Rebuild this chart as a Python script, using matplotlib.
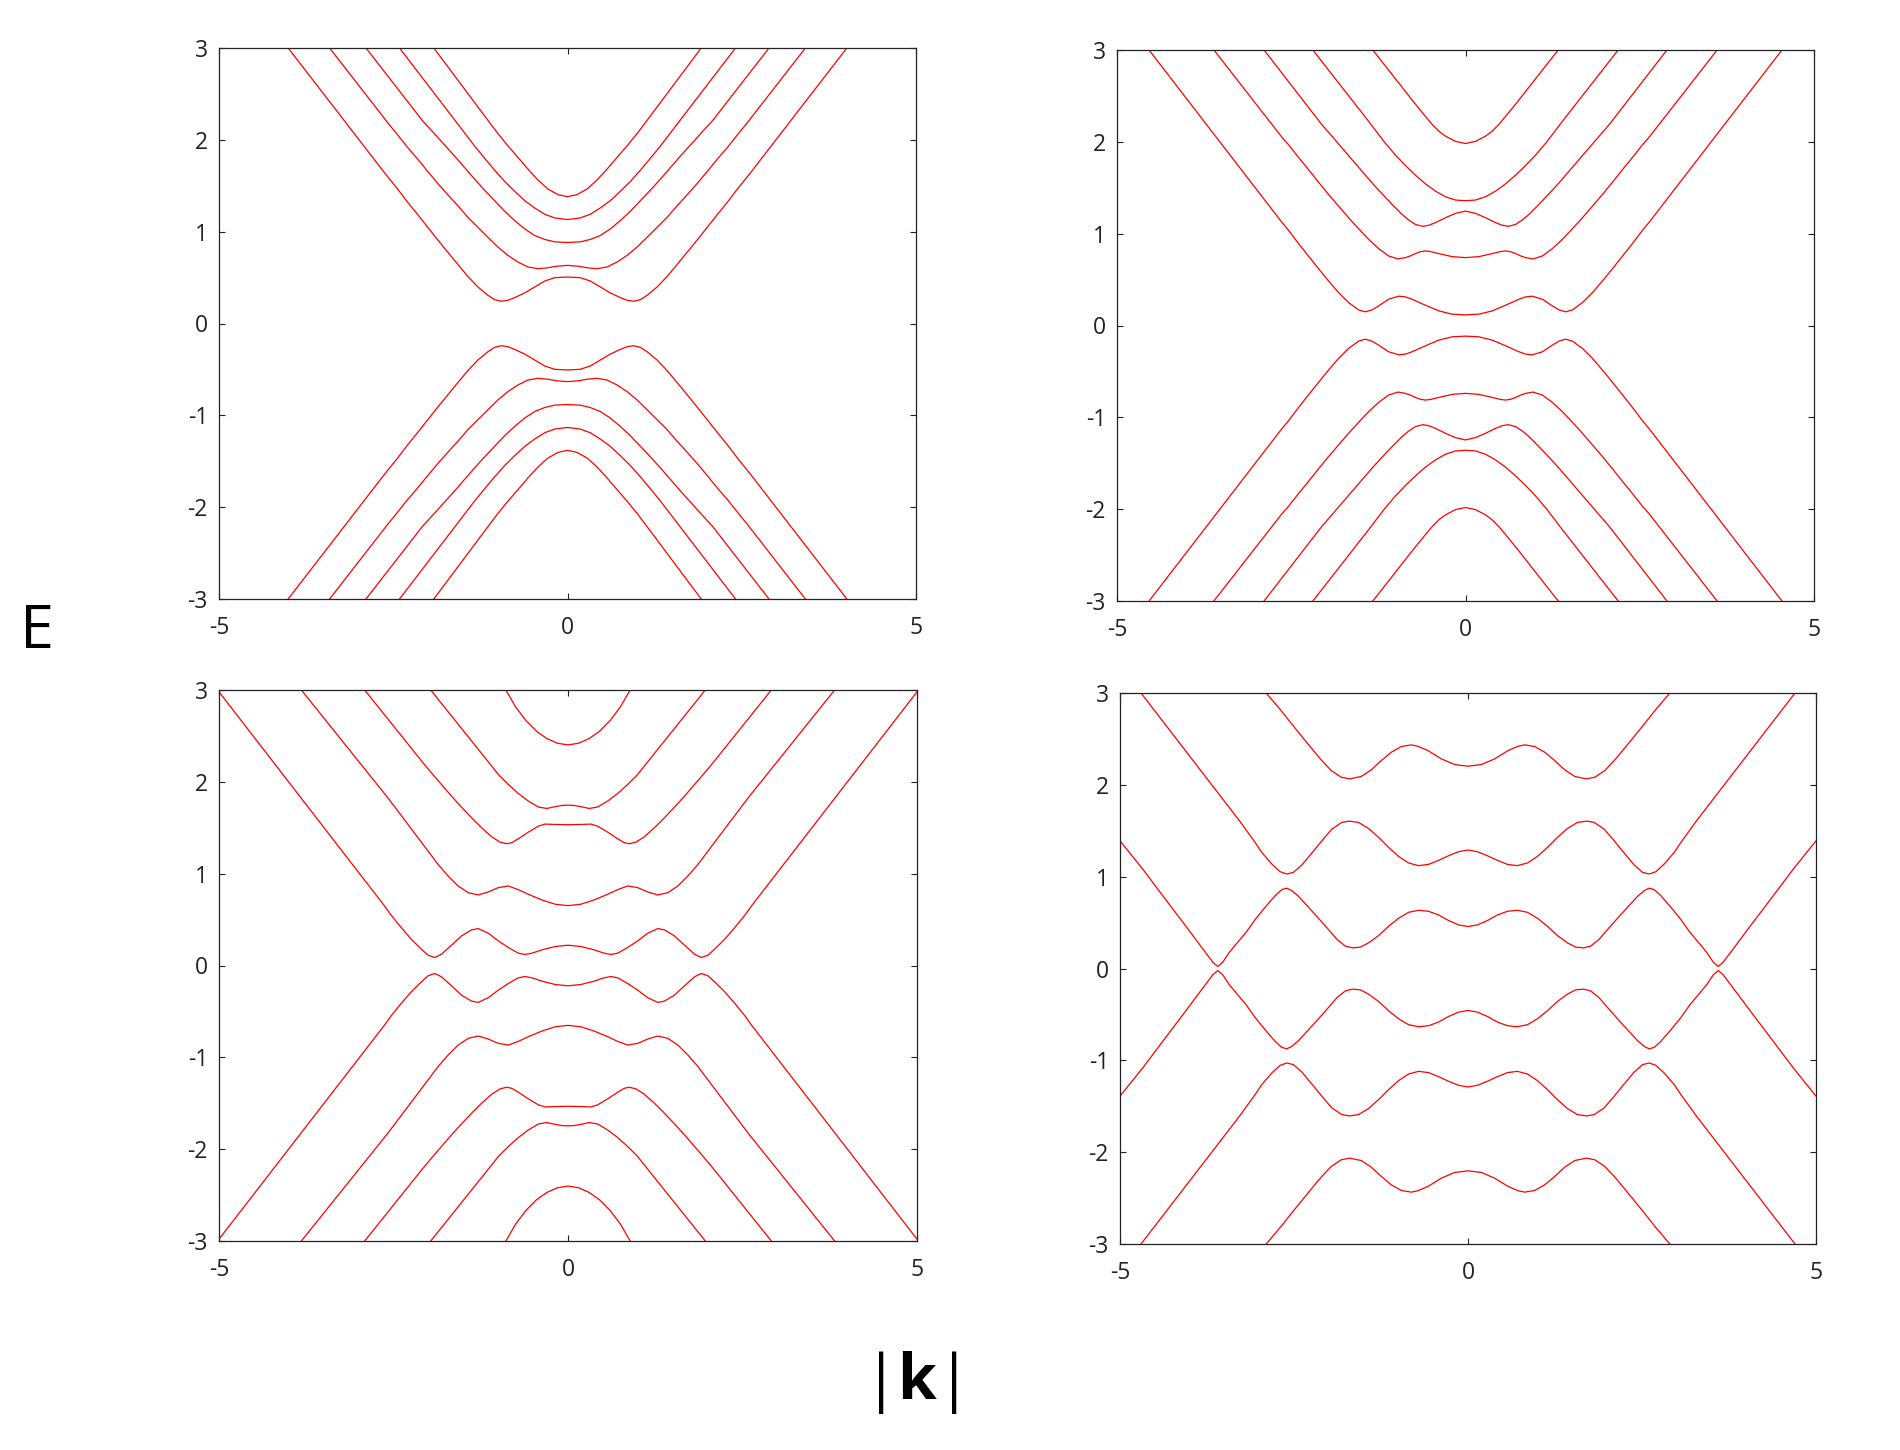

import matplotlib
matplotlib.use('Agg')
import matplotlib.pyplot as plt
import numpy as np

plt.rcParams['font.family'] = ['Open Sans', 'DejaVu Sans']
plt.rcParams['axes.unicode_minus'] = False
plt.rcParams['mathtext.fontset'] = 'custom'
plt.rcParams['mathtext.rm'] = 'Open Sans'
plt.rcParams['mathtext.bf'] = 'Open Sans:bold'

# Only the k >= 0, E >= 0 quarter of each band is stored as (k, E) pairs;
# the bands are mirrored in k and in E when drawn.

# panel 1 (top left)
p1_band_1 = [(0, 1.381), (0.135, 1.403), (0.279, 1.464), (0.423, 1.562), (0.567, 1.681),
             (0.71, 1.808), (0.854, 1.934), (0.998, 2.068), (1.118, 2.188), (1.918, 3.0)]
p1_band_2 = [(0, 1.132), (0.18, 1.149), (0.326, 1.189), (0.47, 1.258), (0.614, 1.338),
             (0.758, 1.439), (0.902, 1.547), (1.046, 1.67), (1.19, 1.8), (1.334, 1.934),
             (1.597, 2.195), (2.41, 3.0)]
p1_band_3 = [(0, 0.882), (0.182, 0.889), (0.326, 0.915), (0.47, 0.958), (0.614, 1.03),
             (0.758, 1.121), (0.902, 1.222), (1.046, 1.338), (1.19, 1.453), (1.334, 1.573),
             (1.478, 1.699), (1.622, 1.826), (1.766, 1.945), (1.91, 2.068), (2.077, 2.205),
             (2.891, 3.0)]
p1_band_4 = [(0, 0.633), (0.15, 0.624), (0.3, 0.605), (0.422, 0.597), (0.566, 0.615),
             (0.71, 0.669), (0.854, 0.741), (0.998, 0.832), (1.142, 0.94), (1.286, 1.048),
             (1.43, 1.157), (1.574, 1.283), (1.718, 1.403), (1.862, 1.526), (2.005, 1.656),
             (2.149, 1.79), (2.293, 1.916), (2.437, 2.054), (2.58, 2.187), (3.413, 3.0)]
p1_band_5 = [(0, 0.506), (0.182, 0.499), (0.326, 0.463), (0.47, 0.398), (0.614, 0.333),
             (0.758, 0.282), (0.854, 0.253), (0.95, 0.242), (1.046, 0.26), (1.142, 0.307),
             (1.286, 0.398), (1.43, 0.513), (1.574, 0.644), (1.718, 0.777), (1.862, 0.911),
             (2.005, 1.048), (2.149, 1.186), (2.293, 1.32), (2.437, 1.464), (2.629, 1.645),
             (4.008, 3.0)]

# panel 2 (top right)
p2_band_1 = [(0, 1.982), (0.143, 2.005), (0.287, 2.062), (0.383, 2.116), (0.479, 2.19),
             (0.6, 2.3), (0.75, 2.44), (0.9, 2.585), (1.05, 2.73), (1.2, 2.875), (1.33, 3.0)]
p2_band_2 = [(0, 1.359), (0.143, 1.366), (0.287, 1.402), (0.432, 1.464), (0.576, 1.543),
             (0.719, 1.638), (0.863, 1.743), (1.007, 1.858), (1.15, 1.985), (1.294, 2.127),
             (1.366, 2.2), (2.19, 3.0)]
p2_band_3 = [(0, 1.246), (0.143, 1.221), (0.287, 1.174), (0.432, 1.12), (0.528, 1.091),
             (0.614, 1.08), (0.719, 1.101), (0.815, 1.149), (0.911, 1.21), (1.054, 1.319),
             (1.198, 1.435), (1.342, 1.554), (1.486, 1.681), (1.63, 1.808), (1.774, 1.935),
             (1.918, 2.062), (2.062, 2.188), (2.89, 3.0)]
p2_band_4 = [(0, 0.739), (0.191, 0.75), (0.383, 0.783), (0.5, 0.805), (0.575, 0.812),
             (0.65, 0.803), (0.719, 0.783), (0.8, 0.755), (0.863, 0.739), (0.969, 0.725),
             (1.103, 0.757), (1.246, 0.837), (1.39, 0.938), (1.534, 1.054), (1.678, 1.174),
             (1.822, 1.301), (1.966, 1.428), (2.11, 1.562), (2.254, 1.699), (2.398, 1.833),
             (2.542, 1.971), (2.638, 2.054), (3.61, 3.0)]
p2_band_5 = [(0, 0.116), (0.191, 0.123), (0.383, 0.159), (0.575, 0.221), (0.767, 0.286),
             (0.863, 0.312), (0.959, 0.319), (1.103, 0.286), (1.246, 0.214), (1.342, 0.17),
             (1.438, 0.149), (1.534, 0.17), (1.678, 0.25), (1.822, 0.359), (1.966, 0.486),
             (2.11, 0.62), (2.254, 0.757), (2.398, 0.895), (2.542, 1.04), (2.638, 1.127),
             (4.54, 3.0)]

# panel 3 (bottom left)
p3_band_1 = [(0, 2.402), (0.15, 2.42), (0.3, 2.47), (0.45, 2.55), (0.6, 2.665),
             (0.75, 2.815), (0.89, 3.0)]
p3_band_2 = [(0, 1.746), (0.087, 1.743), (0.183, 1.73), (0.303, 1.71), (0.423, 1.725),
             (0.567, 1.79), (0.711, 1.873), (0.855, 1.971), (0.998, 2.08), (1.118, 2.195),
             (1.967, 3.0)]
p3_band_3 = [(0, 1.533), (0.183, 1.536), (0.327, 1.54), (0.423, 1.518), (0.567, 1.453),
             (0.711, 1.38), (0.807, 1.337), (0.879, 1.326), (0.975, 1.344), (1.094, 1.402),
             (1.238, 1.5), (1.382, 1.609), (1.526, 1.725), (1.669, 1.844), (1.813, 1.971),
             (1.957, 2.098), (2.077, 2.207), (2.913, 3.0)]
p3_band_4 = [(0, 0.652), (0.183, 0.667), (0.375, 0.714), (0.567, 0.775), (0.711, 0.826),
             (0.855, 0.866), (0.998, 0.848), (1.142, 0.801), (1.286, 0.768), (1.43, 0.793),
             (1.574, 0.866), (1.718, 0.975), (1.862, 1.101), (2.005, 1.246), (2.149, 1.391),
             (2.293, 1.536), (2.437, 1.681), (2.581, 1.826), (3.82, 3.0)]
p3_band_5 = [(0, 0.221), (0.183, 0.207), (0.375, 0.17), (0.518, 0.134), (0.615, 0.12),
             (0.711, 0.134), (0.855, 0.196), (0.998, 0.268), (1.142, 0.351), (1.286, 0.402),
             (1.382, 0.388), (1.526, 0.322), (1.669, 0.221), (1.813, 0.123), (1.909, 0.087),
             (2.005, 0.112), (2.101, 0.178), (2.245, 0.286), (2.389, 0.413), (2.533, 0.547),
             (2.629, 0.649), (5.0, 2.98)]

# panel 4 (bottom right)
p4_band_1 = [(0, 2.203), (0.192, 2.221), (0.383, 2.283), (0.575, 2.373), (0.719, 2.42),
             (0.815, 2.435), (0.959, 2.417), (1.103, 2.355), (1.246, 2.264), (1.39, 2.163),
             (1.534, 2.091), (1.7, 2.065), (1.822, 2.083), (1.966, 2.156), (2.11, 2.272),
             (2.253, 2.402), (2.397, 2.536), (2.541, 2.67), (2.685, 2.808), (2.9, 3.0)]
p4_band_2 = [(0, 1.29), (0.135, 1.272), (0.279, 1.228), (0.422, 1.178), (0.566, 1.134),
             (0.71, 1.12), (0.854, 1.149), (0.998, 1.221), (1.141, 1.319), (1.285, 1.428),
             (1.429, 1.525), (1.573, 1.591), (1.707, 1.605), (1.813, 1.591), (1.956, 1.518),
             (2.1, 1.391), (2.244, 1.257), (2.388, 1.127), (2.508, 1.047), (2.603, 1.029),
             (2.699, 1.054), (2.819, 1.138), (2.963, 1.264), (3.059, 1.373), (3.284, 1.609),
             (4.698, 3.0)]
p4_band_3 = [(0, 0.457), (0.135, 0.475), (0.279, 0.522), (0.422, 0.583), (0.566, 0.623),
             (0.71, 0.634), (0.854, 0.612), (0.998, 0.547), (1.141, 0.46), (1.285, 0.359),
             (1.429, 0.279), (1.549, 0.232), (1.66, 0.225), (1.76, 0.243), (1.88, 0.315),
             (2.004, 0.424), (2.148, 0.547), (2.292, 0.667), (2.436, 0.786), (2.532, 0.848),
             (2.603, 0.875), (2.675, 0.859), (2.771, 0.793), (2.915, 0.667), (3.059, 0.533),
             (3.188, 0.395), (3.428, 0.178), (3.524, 0.069), (3.595, 0.022), (3.667, 0.069),
             (3.811, 0.214), (4.05, 0.457), (4.386, 0.793), (4.674, 1.083), (5.0, 1.39)]

panel_bands = [
    [p1_band_1, p1_band_2, p1_band_3, p1_band_4, p1_band_5],
    [p2_band_1, p2_band_2, p2_band_3, p2_band_4, p2_band_5],
    [p3_band_1, p3_band_2, p3_band_3, p3_band_4, p3_band_5],
    [p4_band_1, p4_band_2, p4_band_3],
]

x_ticks = [-5, 0, 5]
y_ticks = [-3, -2, -1, 0, 1, 2, 3]

# axes boxes in pixels of the 1900x1450 figure: left, top, right, bottom
panel_boxes = [(219, 48, 916, 599), (1117, 50, 1814, 601),
               (219, 690, 917, 1241), (1120, 693, 1816, 1244)]

W, H = 1900, 1450


def full_curve(quarter):
    """Mirror a k >= 0 half of a band onto negative k"""
    k = np.array([p[0] for p in quarter])
    e = np.array([p[1] for p in quarter])
    k_full = np.concatenate([-k[::-1], k[1:]])
    e_full = np.concatenate([e[::-1], e[1:]])
    return k_full, e_full


def draw_panel(ax, bands):
    for band in bands:
        k, e = full_curve(band)
        ax.plot(k, e, color='#ff0000', lw=0.9)
        ax.plot(k, -e, color='#ff0000', lw=0.9)

    ax.set_xlim(-5, 5)
    ax.set_ylim(-3, 3)
    ax.set_xticks(x_ticks)
    ax.set_xticklabels([str(t) for t in x_ticks])
    ax.set_yticks(y_ticks)
    ax.set_yticklabels([str(t) for t in y_ticks])
    ax.tick_params(direction='in', top=True, right=True, length=4.3, width=0.8,
                   labelsize=16.5, colors='#222222')
    ax.tick_params(axis='x', pad=12)
    ax.tick_params(axis='y', pad=8)
    for spine in ax.spines.values():
        spine.set_linewidth(0.9)
        spine.set_color('#222222')


def main():
    fig = plt.figure(figsize=(W / 100, H / 100), dpi=100)

    for (left, top, right, bottom), bands in zip(panel_boxes, panel_bands):
        ax = fig.add_axes([left / W, 1 - bottom / H, (right - left) / W, (bottom - top) / H])
        draw_panel(ax, bands)

    fig.text(37 / W, 1 - 632 / H, 'E', fontsize=44, ha='center', va='center')
    fig.text(910 / W, 1 - 1399 / H, r'|$\mathbf{k}$|', fontsize=45,
             ha='center', va='baseline')

    fig.savefig('out.png', dpi=100)


if __name__ == '__main__':
    main()
